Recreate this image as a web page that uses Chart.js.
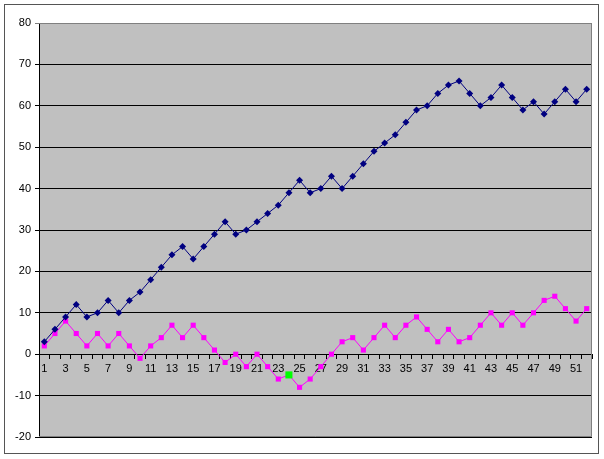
<!DOCTYPE html>
<html>
<head>
<meta charset="utf-8">
<script src="https://cdn.jsdelivr.net/npm/chart.js@4"></script>
<style>
html,body{margin:0;padding:0;background:#fff;}
#wrap{width:604px;height:459px;}
</style>
</head>
<body>
<div id="wrap"><canvas id="c" width="604" height="459"></canvas></div>
<script>
const categories = Array.from({length: 52}, (_, i) => String(i + 1));
const seriesNavy = [3,6,9,12,9,10,13,10,13,15,18,21,24,26,23,26,29,32,29,30,32,34,36,39,42,39,40,43,40,43,46,49,51,53,56,59,60,63,65,66,63,60,62,65,62,59,61,58,61,64,61,64];
const seriesMagenta = [2,5,8,5,2,5,2,5,2,-1,2,4,7,4,7,4,1,-2,0,-3,0,-3,-6,-5,-8,-6,-3,0,3,4,1,4,7,4,7,9,6,3,6,3,4,7,10,7,10,7,10,13,14,11,8,11];
const highlightIndex = 23; // category "24"
const yTicks = [-20,-10,0,10,20,30,40,50,60,70,80];

const FONT = 'Arial, "Liberation Sans", sans-serif';

const frame = {
  id: 'frame',
  beforeDraw(chart) {
    const {ctx, chartArea: a} = chart;
    ctx.save();
    ctx.fillStyle = '#fff';
    ctx.fillRect(0, 0, chart.width, chart.height);
    ctx.fillStyle = '#C0C0C0';
    ctx.fillRect(a.left, a.top, a.right - a.left, a.bottom - a.top);
    ctx.restore();
  },
  afterDraw(chart) {
    const {ctx, chartArea: a} = chart;
    ctx.save();
    ctx.strokeStyle = '#808080';
    ctx.lineWidth = 1;
    ctx.beginPath();
    ctx.moveTo(a.left, a.top + 0.5);
    ctx.lineTo(a.right - 0.5, a.top + 0.5);
    ctx.lineTo(a.right - 0.5, a.bottom - 0.5);
    ctx.lineTo(a.left, a.bottom - 0.5);
    ctx.stroke();
    ctx.strokeStyle = '#555';
    ctx.strokeRect(4.5, 4.5, 594, 449);
    ctx.restore();
  }
};

new Chart(document.getElementById('c'), {
  type: 'line',
  data: {
    labels: categories,
    datasets: [
      {
        data: seriesNavy,
        borderColor: '#000080',
        backgroundColor: '#000080',
        borderWidth: 1,
        pointStyle: 'rectRot',
        pointRadius: 3.5,
        pointBorderWidth: 0,
        pointBackgroundColor: '#000080',
        tension: 0
      },
      {
        data: seriesMagenta,
        borderColor: '#FF00FF',
        backgroundColor: '#FF00FF',
        borderWidth: 1,
        pointStyle: 'rect',
        pointRadius: seriesMagenta.map((v, i) => i === highlightIndex ? 5 : 3.6),
        pointBorderWidth: 0,
        pointBackgroundColor: seriesMagenta.map((v, i) => i === highlightIndex ? '#00FF00' : '#FF00FF'),
        tension: 0
      }
    ]
  },
  options: {
    responsive: false,
    animation: false,
    devicePixelRatio: 1,
    layout: { padding: { top: 23, right: 12, bottom: 22, left: 0 } },
    plugins: { legend: { display: false }, tooltip: { enabled: false } },
    scales: {
      x: {
        type: 'category',
        position: { y: 0 },
        offset: true,
        afterFit(scale) { scale.height = 0; },
        grid: {
          offset: true,
          drawOnChartArea: false,
          drawTicks: true,
          tickLength: 4,
          color: '#000'
        },
        border: { display: true, color: '#000', width: 1 },
        ticks: {
          autoSkip: false,
          maxRotation: 0,
          padding: 4,
          color: '#000',
          font: { family: FONT, size: 11 },
          callback(val, idx) { return idx % 2 === 0 ? categories[idx] : ''; }
        }
      },
      y: {
        min: -20,
        max: 80,
        afterBuildTicks(scale) { scale.ticks = yTicks.map(v => ({value: v})); },
        afterFit(scale) { scale.width = 39; },
        grid: {
          color: (c) => c.tick && c.tick.value === 80 ? '#808080' : '#000',
          lineWidth: 1,
          tickLength: 4,
          drawTicks: true
        },
        border: { display: true, color: '#000', width: 1 },
        ticks: {
          color: '#000',
          padding: 4,
          font: { family: FONT, size: 11 }
        }
      }
    }
  },
  plugins: [frame]
});
</script>
</body>
</html>
